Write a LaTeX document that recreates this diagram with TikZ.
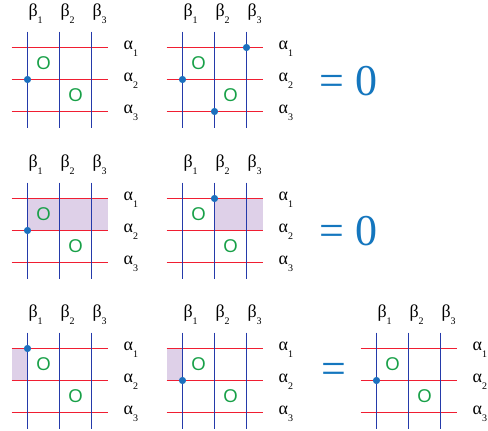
\documentclass[tikz,border=0pt]{standalone}
\usepackage{fontspec}
\setmainfont{Liberation Serif}
\setsansfont{Liberation Sans}
\usetikzlibrary{backgrounds}
\definecolor{alphared}{RGB}{240,30,50}
\definecolor{betablue}{RGB}{36,58,170}
\definecolor{dotblue}{RGB}{28,112,190}
\definecolor{ogreen}{RGB}{24,160,72}
\definecolor{domain}{RGB}{222,208,232}
\definecolor{eqblue}{RGB}{20,118,190}
\newcommand\sublab[2]{#1\raisebox{-6.5pt}{\fontsize{10}{10}\selectfont #2}}

\tikzset{
  heeg/.pic={
    % alpha curves
    \foreach \i in {1,2,3} {
      \coordinate (-l\i) at (-16,{32*(\i-1)});
      \coordinate (-r\i) at (80,{32*(\i-1)});
      \draw[alphaline] (-l\i) -- (-r\i);
      \node[glab,anchor=base west] (-al\i) at (96,{32*(\i-1)+2.3}) {\sublab{α}{\i}};
    }
    % beta curves
    \foreach \j in {1,2,3} {
      \coordinate (-t\j) at ({32*(\j-1)},-16);
      \coordinate (-d\j) at ({32*(\j-1)},80);
      \draw[betaline] (-t\j) -- (-d\j);
      \node[glab,anchor=base west] (-bl\j) at ({32*(\j-1)+0.8},-31) {\sublab{β}{\j}};
    }
    \foreach \i in {1,2,3} {
      \foreach \j in {1,2,3} {
        \coordinate (-p\i\j) at ({32*(\j-1)},{32*(\i-1)});
      }
    }
    \node[omark] (-o1) at (16,16) {O};
    \node[omark] (-o2) at (48,48) {O};
  }
}

\begin{document}
\begin{tikzpicture}[x=1pt,y=-1pt,
  alphaline/.style={draw=alphared,line width=1.8pt},
  betaline/.style={draw=betablue,line width=1.8pt},
  glab/.style={inner sep=0pt,font=\fontsize{18}{18}\selectfont},
  omark/.style={inner sep=0pt,text=ogreen,font=\sffamily\fontsize{18.5}{18.5}\selectfont},
  dot/.style={fill=dotblue},
  eqsign/.style={inner sep=0pt,text=eqblue,font=\fontsize{44}{44}\selectfont},
  region/.style={fill=domain}]
\useasboundingbox (0,0) rectangle (488,431);

% row 1
\pic (g1) at (27.5,47.5) {heeg};
\pic (g2) at (182.5,47.5) {heeg};
\fill[dot] (g1-p21) circle (3.6pt);
\fill[dot] (g2-p13) circle (3.6pt);
\fill[dot] (g2-p21) circle (3.6pt);
\fill[dot] (g2-p32) circle (3.6pt);
\node[eqsign,anchor=base] (eq1) at (348.5,95) {= 0};

% row 2
\pic (g3) at (27.5,198.5) {heeg};
\pic (g4) at (182.5,198.5) {heeg};
\begin{scope}[on background layer]
  \fill[region] (g3-p11) rectangle (g3-r2);
  \fill[region] (g4-p12) rectangle (g4-r2);
\end{scope}
\fill[dot] (g3-p21) circle (3.6pt);
\fill[dot] (g4-p12) circle (3.6pt);
\node[eqsign,anchor=base] (eq2) at (348.5,245) {= 0};

% row 3
\pic (g5) at (27.5,348.5) {heeg};
\pic (g6) at (182.5,348.5) {heeg};
\pic (g7) at (376.5,348.5) {heeg};
\begin{scope}[on background layer]
  \fill[region] (g5-l1) rectangle (g5-p21);
  \fill[region] (g6-l1) rectangle (g6-p21);
\end{scope}
\fill[dot] (g5-p11) circle (3.6pt);
\fill[dot] (g6-p21) circle (3.6pt);
\fill[dot] (g7-p21) circle (3.6pt);
\node[eqsign,anchor=base] (eq3) at (333.7,383.5) {=};
\end{tikzpicture}
\end{document}
